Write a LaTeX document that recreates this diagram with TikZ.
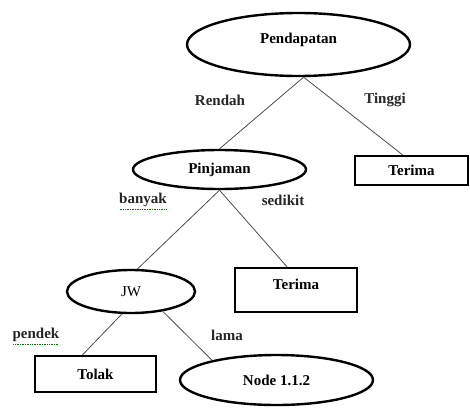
\documentclass[tikz,border=0pt]{standalone}
\usepackage{fontspec}
\setmainfont{Liberation Serif}
\usetikzlibrary{shapes.geometric,calc}
\begin{document}
\begin{tikzpicture}[x=1pt,y=-1pt,
  txt/.style={font=\fontsize{15}{17}\selectfont\bfseries},
  oval/.style={ellipse,draw,line width=2.4pt,inner sep=0pt,txt},
  leaf/.style={rectangle,draw,line width=2.4pt,inner sep=0pt,txt},
  branch/.style={draw=black!70,line width=0.8pt},
  tag/.style={txt,text=black!85},
  squiggle/.style={draw=green!45!black,line width=0.7pt,densely dotted}]
\useasboundingbox (0,0) rectangle (470,407);

% decision nodes
\node[oval,minimum width=223,minimum height=63,text depth=13pt] (pend) at (298.5,44.5) {Pendapatan};
\node[oval,minimum width=173,minimum height=39] (pinj) at (219.5,169.5) {Pinjaman};
\node[oval,minimum width=128,minimum height=43,font=\fontsize{15}{17}\selectfont] (jw) at (131,291.5) {JW};
\node[oval,minimum width=193,minimum height=50] (n112) at (276.5,380) {Node 1.1.2};

% leaves
\node[leaf,minimum width=113,minimum height=29] (ter1) at (411.5,170.5) {Terima};
\node[leaf,minimum width=122,minimum height=44,text depth=12pt] (ter2) at (296,290) {Terima};
\node[leaf,minimum width=121,minimum height=36] (tol) at (95.5,374) {Tolak};

% branches
\draw[branch] (pend.-81) -- (pinj.north);
\draw[branch] (pend.-81) -- ($(ter1.north)+(-9,0)$);
\draw[branch] (pinj.south) -- (jw.74);
\draw[branch] (pinj.south) -- ($(ter2.north)+(-9,0)$);
\draw[branch] (jw.-112) -- ($(tol.north)+(-13,0)$);
\draw[branch] (jw.-32) -- (n112.163);

% branch labels
\node[tag] (lrendah) at (220,100) {Rendah};
\node[tag] (ltinggi) at (385,100) {Tinggi};
\node[tag] (lbanyak) at (143,200) {banyak};
\node[tag] (lsedikit) at (283,200) {sedikit};
\node[tag] (lpendek) at (36,335) {pendek};
\node[tag] (llama) at (227,335) {lama};

% spell-check underlines
\draw[squiggle] ($(lbanyak.south west)+(4,-1)$) -- ($(lbanyak.south east)+(-4,-1)$);
\draw[squiggle] ($(lpendek.south west)+(4,-1)$) -- ($(lpendek.south east)+(-4,-1)$);
\end{tikzpicture}
\end{document}
